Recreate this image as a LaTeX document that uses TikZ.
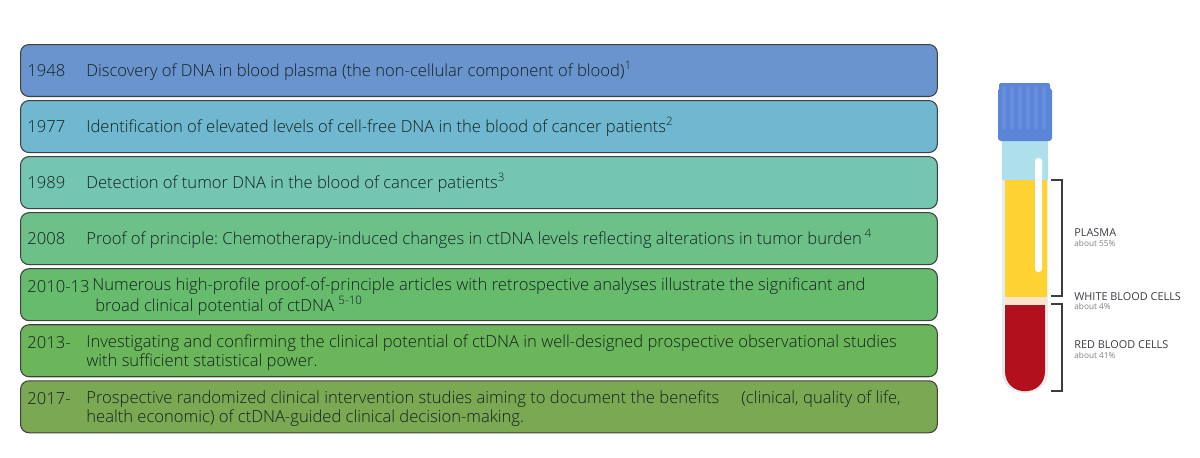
\documentclass[tikz,border=0pt]{standalone}
\usepackage{fontspec}
\setmainfont{Open Sans Light}
\newfontfamily\labelfont{Open Sans}
\usepackage{xcolor}
\usetikzlibrary{positioning}
\frenchspacing
\definecolor{rowA}{HTML}{6994CD}
\definecolor{rowB}{HTML}{6FB8CF}
\definecolor{rowC}{HTML}{74C5B1}
\definecolor{rowD}{HTML}{6DC088}
\definecolor{rowE}{HTML}{66BB6C}
\definecolor{rowF}{HTML}{6BB55A}
\definecolor{rowG}{HTML}{7BA852}
\definecolor{capblue}{HTML}{5B86D8}
\definecolor{capridge}{HTML}{658EDD}
\definecolor{tubeblue}{HTML}{AEDFEC}
\definecolor{tubepale}{HTML}{E3EEF1}
\definecolor{plasma}{HTML}{FDD231}
\definecolor{buffy}{HTML}{FBE3D0}
\definecolor{redcells}{HTML}{B3101E}
\definecolor{inkdark}{HTML}{14211F}
\definecolor{bracket}{HTML}{3A3D45}
\tikzset{
  rowbox/.style={draw=black!75,line width=0.6pt,rounded corners=0.17cm,inner sep=0pt,
    minimum width=18.34cm,minimum height=1.04cm},
  rowtext/.style={inner sep=0pt,color=inkdark,font=\fontsize{9.45}{10.8}\selectfont,align=left},
  tubelabel/.style={inner sep=0pt,anchor=west,color=bracket,font=\labelfont\fontsize{6.2}{6.5}\selectfont},
  tubenote/.style={inner sep=0pt,anchor=west,color=black!50,font=\labelfont\fontsize{4.7}{5}\selectfont},
  bracketline/.style={draw=bracket,line width=1pt},
}
\begin{document}
\begin{tikzpicture}[x=0.02cm,y=-0.02cm]
    \useasboundingbox (0,0) rectangle (1200,457);
    % The seven rows of the timeline
    \node[rowbox,fill=rowA,anchor=north west] (row48) at (20,44) {};
    \node[rowbox,fill=rowB] (row77) [below=0.06cm of row48] {};
    \node[rowbox,fill=rowC] (row89) [below=0.06cm of row77] {};
    \node[rowbox,fill=rowD] (row08) [below=0.06cm of row89] {};
    \node[rowbox,fill=rowE] (row10) [below=0.06cm of row08] {};
    \node[rowbox,fill=rowF] (row13) [below=0.06cm of row10] {};
    \node[rowbox,fill=rowG] (row17) [below=0.06cm of row13] {};
    % Years
    \node[rowtext] (year48) [right=0.14cm of row48.west] {1948};
    \node[rowtext] (year77) [right=0.14cm of row77.west] {1977};
    \node[rowtext] (year89) [right=0.14cm of row89.west] {1989};
    \node[rowtext] (year08) [right=0.14cm of row08.west] {2008};
    \node[rowtext] (year10) [right=0.14cm of row10.west,yshift=0.16cm] {2010-13};
    \node[rowtext] (year13) [right=0.14cm of row13.west,yshift=0.16cm] {2013-};
    \node[rowtext] (year17) [right=0.14cm of row17.west,yshift=0.16cm] {2017-};
    % Descriptions
    \node[rowtext] (text48) [right=1.32cm of row48.west] {Discovery of DNA in blood plasma (the non-cellular component of blood)\textsuperscript{1}};
    \node[rowtext] (text77) [right=1.32cm of row77.west] {Identification of elevated levels of cell-free DNA in the blood of cancer patients\textsuperscript{2}};
    \node[rowtext] (text89) [right=1.32cm of row89.west] {Detection of tumor DNA in the blood of cancer patients\textsuperscript{3}};
    \node[rowtext] (text08) [right=1.32cm of row08.west] {Proof of principle: Chemotherapy-induced changes in ctDNA levels reflecting alterations in tumor burden\,\textsuperscript{4}};
    \node[rowtext] (text10) [right=1.44cm of row10.west,yshift=-0.03cm] {Numerous high-profile proof-of-principle articles with retrospective analyses illustrate the significant and\\\hspace{0.06cm}broad clinical potential of ctDNA \textsuperscript{5-10}};
    \node[rowtext] (text13) [right=1.32cm of row13.west,yshift=-0.03cm] {Investigating and confirming the clinical potential of ctDNA in well-designed prospective observational studies\\with sufficient statistical power.};
    \node[rowtext] (text17) [right=1.32cm of row17.west,yshift=-0.03cm] {Prospective randomized clinical intervention studies aiming to document the benefits\hspace{0.44cm}(clinical, quality of life,\\health economic) of ctDNA-guided clinical decision-making.};
    % The tube
    \fill[tubepale] (1002,175) -- (1048,175) -- (1048,372) .. controls (1048,400) and (1002,400) .. (1002,372) -- cycle;
    \fill[tubeblue] (1002,135) rectangle (1048,180);
    \fill[plasma] (1005,180) rectangle (1047,297);
    \fill[buffy] (1005,297) rectangle (1046,305);
    \fill[redcells] (1005,305) -- (1045,305) -- (1045,371) .. controls (1045,398) and (1005,398) .. (1005,371) -- cycle;
    \fill[white,rounded corners=0.06cm] (1035,158) rectangle (1042,272);
    % The cap
    \fill[capblue,rounded corners=0.04cm] (999,83) rectangle (1050,95);
    \fill[capblue,rounded corners=0.06cm] (998,88) rectangle (1052,141);
    \foreach \xpos in {1004,1012,1020,1028,1036,1044} {
        \fill[capridge] (\xpos-2,86) rectangle (\xpos+2,129);
    }
    % Brackets
    \coordinate (plasmaTop) at (1051,180);
    \coordinate (plasmaEnd) at (1051,296);
    \coordinate (redTop) at (1051,304);
    \coordinate (redEnd) at (1051,391);
    \draw[bracketline] (plasmaTop) -- (1062,180) -- (1062,296) -- (plasmaEnd);
    \draw[bracketline] (redTop) -- (1062,304) -- (1062,391) -- (redEnd);
    % Label the layers
    \node[tubelabel] (plasmaLabel) at (1074,233) {PLASMA};
    \node[tubenote] (plasmaNote) at (1074,243) {about 55\%};
    \node[tubelabel] (whiteLabel) at (1074,297) {WHITE BLOOD CELLS};
    \node[tubenote] (whiteNote) at (1074,306) {about 4\%};
    \node[tubelabel] (redLabel) at (1074,345) {RED BLOOD CELLS};
    \node[tubenote] (redNote) at (1074,355) {about 41\%};
\end{tikzpicture}
\end{document}
